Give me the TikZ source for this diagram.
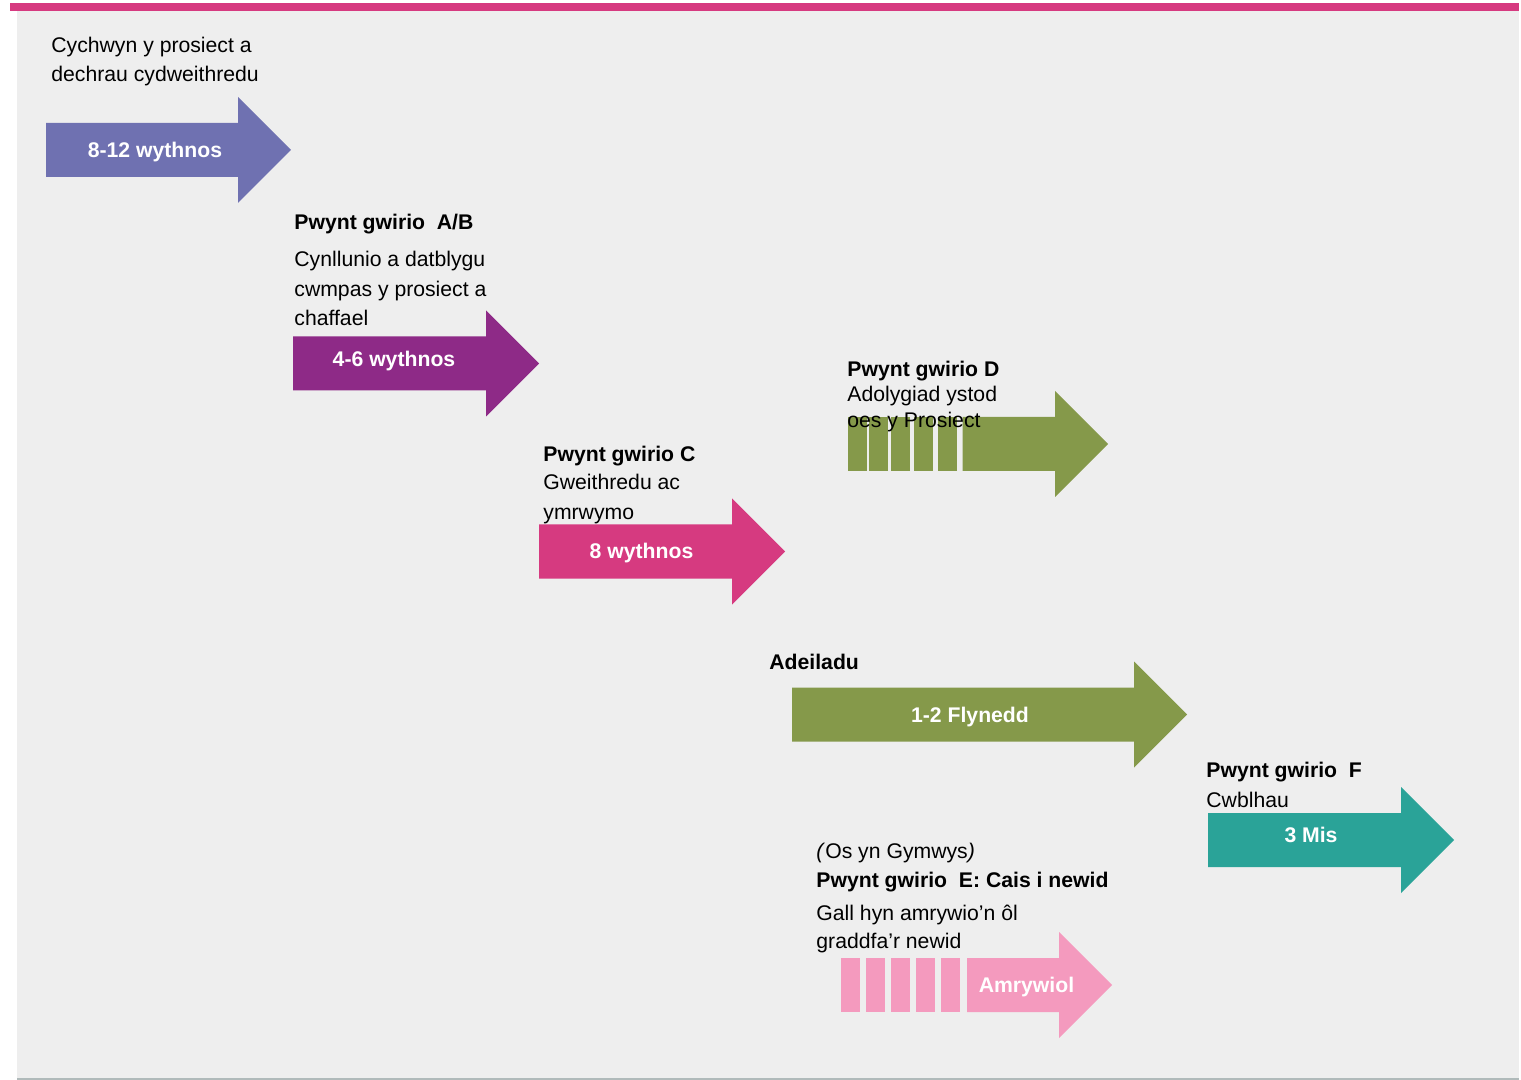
\documentclass[tikz,border=0pt]{standalone}
\usepackage{fontspec}
\setmainfont{Liberation Sans}
\definecolor{bggray}{HTML}{EEEEEE}
\definecolor{edgegray}{HTML}{B0BABA}
\definecolor{barpink}{HTML}{D63A80}
\definecolor{lilac}{HTML}{6F71B1}
\definecolor{plum}{HTML}{8E2A87}
\definecolor{rose}{HTML}{D63A80}
\definecolor{olive}{HTML}{85994A}
\definecolor{teal}{HTML}{2AA398}
\definecolor{blush}{HTML}{F49ABE}
% body from #2 to #3, centre line #4
\newcommand{\phase}[4]{\fill[#1] (#2,#4-27) -- (#3,#4-27) -- (#3,#4-53) -- (#3+53,#4) -- (#3,#4+53) -- (#3,#4+27) -- (#2,#4+27) -- cycle;}
\begin{document}
\begin{tikzpicture}[x=0.5pt,y=-0.5pt,
    lbl/.style={anchor=base west,inner sep=0pt,font=\fontsize{10.6}{12}\selectfont},
    hd/.style={anchor=base west,inner sep=0pt,font=\fontsize{10.6}{12}\selectfont\bfseries},
    dur/.style={anchor=base,inner sep=0pt,text=white,font=\fontsize{10.6}{12}\selectfont\bfseries}]
    \useasboundingbox (0,0) rectangle (1521,1080);
    \fill[bggray] (17,11) rectangle (1519,1079);
    \draw[edgegray,line width=1pt] (17,1078.5) -- (1519,1078.5);
    \fill[barpink] (10,3) rectangle (1519,11);
    % arrows
    \phase{lilac}{46}{238}{150}
    \phase{plum}{293}{486}{363.5}
    \phase{rose}{539}{732}{551.5}
    \phase{olive}{962.7}{1055}{444}
    \foreach \a/\b in {847.7/866.7,869.3/887.7,891/910,914/933,938/957}
        \fill[olive] (\a,417) rectangle (\b,471);
    \phase{olive}{792}{1134}{714.5}
    \phase{teal}{1208}{1401}{840}
    \phase{blush}{967}{1059}{985}
    \foreach \a in {841,866,891,916,941}
        \fill[blush] (\a,958) rectangle (\a+19,1012);
    % durations
    \node[dur] (d1) at (155,158) {8-12 wythnos};
    \node[dur] (d2) at (394,367) {4-6 wythnos};
    \node[dur] (d3) at (641.5,559) {8 wythnos};
    \node[dur] (d5) at (970,722.5) {1-2 Flynedd};
    \node[dur] (d6) at (1311,842.5) {3 Mis};
    \node[dur] (d7) at (1026.5,992.5) {Amrywiol};
    % labels
    \node[lbl] (st1) at (51,53) {Cychwyn y prosiect a};
    \node[lbl] (st2) at (51,82) {dechrau cydweithredu};
    \node[hd] (ab) at (294,230) {Pwynt gwirio\ \ A/B};
    \node[lbl] (ab1) at (294,267) {Cynllunio a datblygu};
    \node[lbl] (ab2) at (294,297) {cwmpas y prosiect a};
    \node[lbl] (ab3) at (294,325.5) {chaffael};
    \node[hd] (cc) at (543,462) {Pwynt gwirio C};
    \node[lbl] (cc1) at (543,490) {Gweithredu ac};
    \node[lbl] (cc2) at (543,519.5) {ymrwymo};
    \node[hd] (dd) at (847,377) {Pwynt gwirio D};
    \node[lbl] (dd1) at (847,402) {Adolygiad ystod};
    \node[lbl] (dd2) at (847,427.5) {oes y Prosiect};
    \node[hd] (build) at (769,669) {Adeiladu};
    \node[hd] (ff) at (1206,777.5) {Pwynt gwirio\ \ F};
    \node[lbl] (ff1) at (1206,807.5) {Cwblhau};
    \node[lbl] (ee0) at (816,858) {\textit{(}Os yn Gymwys\textit{)}};
    \node[hd] (ee) at (816,887) {Pwynt gwirio\ \ E: Cais i newid};
    \node[lbl] (ee1) at (816,920) {Gall hyn amrywio’n ôl};
    \node[lbl] (ee2) at (816,948.5) {graddfa’r newid};
\end{tikzpicture}
\end{document}
